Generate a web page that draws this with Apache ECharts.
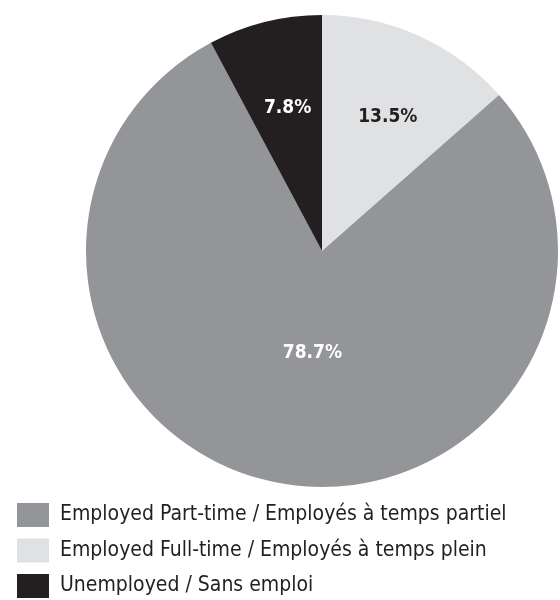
<!DOCTYPE html>
<html>
<head>
<meta charset="utf-8">
<script src="https://cdn.jsdelivr.net/npm/echarts@6/dist/echarts.min.js"></script>
<style>html,body{margin:0;padding:0;background:#fff}#c{width:560px;height:600px}</style>
</head>
<body>
<div id="c"></div>
<script>
// Data (clockwise from 12 o'clock)
const categories = [
  'Employed Full-time / Employés à temps plein',
  'Employed Part-time / Employés à temps partiel',
  'Unemployed / Sans emploi'
];
const values = [13.5, 78.7, 7.8];
const legendOrder = [
  'Employed Part-time / Employés à temps partiel',
  'Employed Full-time / Employés à temps plein',
  'Unemployed / Sans emploi'
];

// Styling (kept apart from data)
const colors = ['#e0e1e3', '#939598', '#231f20'];
const labelColors = ['#231f20', '#ffffff', '#ffffff'];
const labelOffsets = [[16, -24], [12, -17], [-5, -26]];
const FONT = '"Liberation Sans Narrow", "DejaVu Sans Condensed", sans-serif';

const chart = echarts.init(document.getElementById('c'), null, {renderer: 'canvas'});
chart.setOption({
  animation: false,
  legend: {
    data: legendOrder,
    orient: 'vertical',
    left: 17,
    top: 503,
    padding: 0,
    height: 97,
    itemWidth: 32,
    itemHeight: 24,
    itemGap: 11.5,
    icon: 'rect',
    textStyle: {fontFamily: FONT, fontSize: 21, color: '#231f20', padding: [0, 0, 0, 6]},
    selectedMode: false
  },
  series: [{
    type: 'pie',
    center: [322, 251],
    radius: [0, 236],
    startAngle: 90,
    clockwise: true,
    avoidLabelOverlap: false,
    silent: true,
    label: {
      show: true,
      position: 'inner',
      fontFamily: FONT,
      fontWeight: 'bold',
      fontSize: 19,
      formatter: p => p.value.toFixed(1) + '%'
    },
    labelLine: {show: false},
    itemStyle: {borderWidth: 0},
    data: categories.map((name, i) => ({
      name,
      value: values[i],
      itemStyle: {color: colors[i]},
      label: {color: labelColors[i], offset: labelOffsets[i]}
    }))
  }]
});
</script>
</body>
</html>
